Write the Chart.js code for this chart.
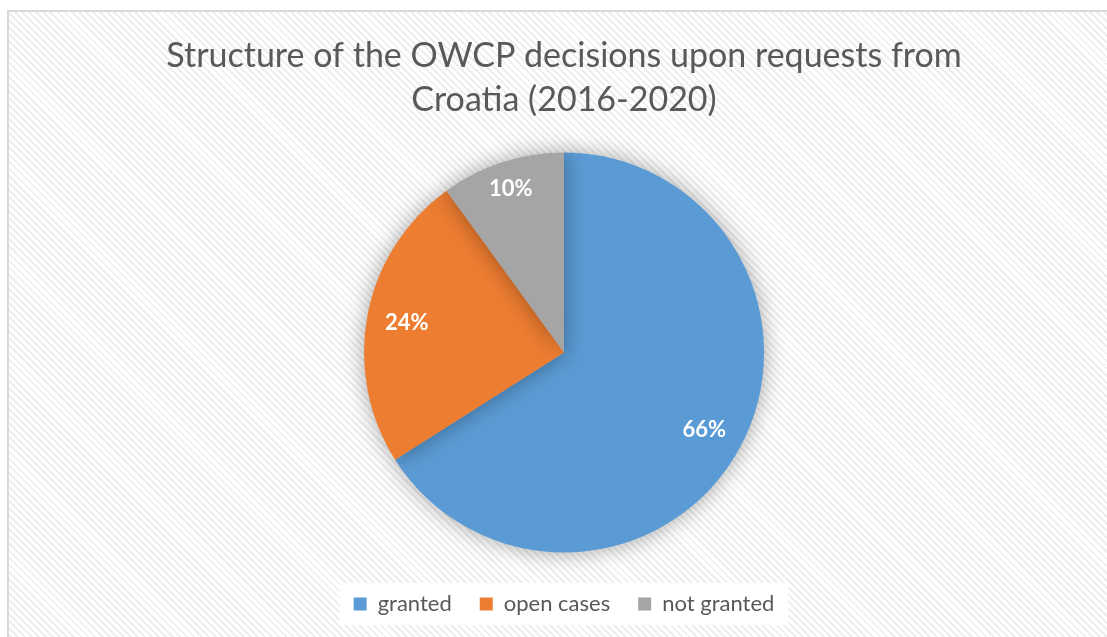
<!DOCTYPE html>
<html>
<head>
<meta charset="utf-8">
<script src="https://cdn.jsdelivr.net/npm/chart.js@4.4.1/dist/chart.umd.min.js"></script>
<style>
  html, body { margin: 0; padding: 0; background: #fff; overflow: hidden; }
  #box {
    position: absolute; left: 7px; top: 10px; width: 1114px; height: 640px;
    border: 2px solid #d9d9d9; box-sizing: border-box;
    background: repeating-linear-gradient(45deg, #ffffff 0px, #ffffff 3px, #eeeeee 3px, #eeeeee 5px);
  }
  #box canvas { position: absolute; left: 0; top: 0; }
</style>
</head>
<body>
<div id="box"><canvas id="grafica" width="1110" height="636"></canvas></div>
<script>
(function () {

  const categorias = ['granted', 'open cases', 'not granted'];
  const valores = [66, 24, 10];
  const colores = ['#5B9BD5', '#ED7D31', '#A5A5A5'];
  const titulo = ['Structure of the OWCP decisions upon requests from', 'Croatia (2016-2020)'];
  const fuente = 'Lato, "Open Sans", sans-serif';

  // sombra suave alrededor del pastel
  const sombra = {
    id: 'sombra',
    beforeDatasetsDraw(chart) {
      const ctx = chart.ctx;
      ctx.save();
      ctx.shadowColor = 'rgba(0,0,0,0.35)';
      ctx.shadowBlur = 22;
    },
    afterDatasetsDraw(chart) {
      chart.ctx.restore();
    }
  };

  // fondo blanco del cuadro de leyenda
  const fondoLeyenda = {
    id: 'fondoLeyenda',
    beforeDraw(chart) {
      const l = chart.legend;
      if (!l || !l.legendHitBoxes.length) return;
      const cajas = l.legendHitBoxes;
      const x0 = cajas[0].left - 14;
      const last = cajas[cajas.length - 1];
      const x1 = last.left + last.width + 14;
      const ctx = chart.ctx;
      ctx.save();
      ctx.fillStyle = '#ffffff';
      ctx.fillRect(x0, cajas[0].top - 10, x1 - x0, cajas[0].height + 20);
      ctx.restore();
    }
  };

  // etiquetas de porcentaje dentro de cada sector
  const etiquetas = {
    id: 'etiquetas',
    afterDatasetsDraw(chart) {
      const ctx = chart.ctx;
      const meta = chart.getDatasetMeta(0);
      ctx.save();
      ctx.fillStyle = '#ffffff';
      ctx.font = 'bold 22px ' + fuente;
      ctx.textAlign = 'center';
      ctx.textBaseline = 'middle';
      meta.data.forEach((arc, i) => {
        const mid = (arc.startAngle + arc.endAngle) / 2;
        const r = arc.outerRadius * (valores[i] < 15 ? 0.86 : 0.8);
        ctx.fillText(valores[i] + '%', arc.x + Math.cos(mid) * r, arc.y + Math.sin(mid) * r);
      });
      ctx.restore();
    }
  };

  const grafica = document.getElementById('grafica');
  new Chart(grafica, {
    type: 'pie',
    data: {
      labels: categorias,
      datasets: [{
        data: valores,
        backgroundColor: colores,
        borderWidth: 0,
        radius: 200
      }]
    },
    options: {
      responsive: false,
      animation: false,
      layout: { padding: { top: 0, bottom: 23 } },
      plugins: {
        title: {
          display: true,
          text: titulo,
          color: '#595959',
          font: { family: fuente, size: 34, weight: 'normal', lineHeight: 1.294 },
          padding: { top: 22, bottom: 18 }
        },
        legend: {
          position: 'bottom',
          labels: {
            color: '#595959',
            font: { family: fuente, size: 22 },
            boxWidth: 13,
            boxHeight: 13,
            padding: 28
          }
        },
        tooltip: { enabled: false }
      }
    },
    plugins: [sombra, fondoLeyenda, etiquetas]
  });

})();
</script>
</body>
</html>
